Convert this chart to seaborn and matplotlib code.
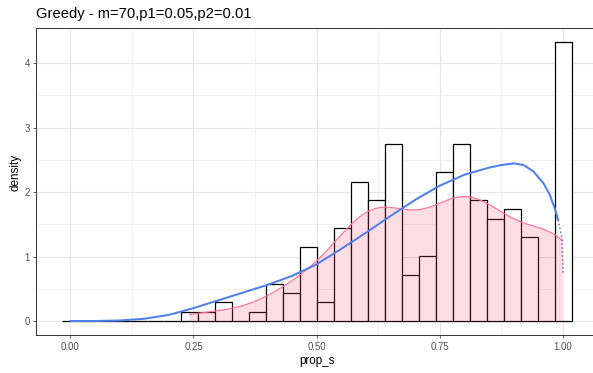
import numpy as np
import pandas as pd
import matplotlib
matplotlib.use("Agg")
import matplotlib.pyplot as plt
import seaborn as sns

# ---- data -------------------------------------------------------------
# prop_s values grouped by histogram bin (30 bins centred from 0 to 1)
bin_centres = np.linspace(0.0, 1.0, 30)
bin_counts = [0, 0, 0, 0, 0, 0, 0, 1, 1, 2, 0, 1, 4, 3, 8, 2,
              10, 15, 13, 19, 5, 7, 16, 19, 13, 11, 12, 9, 0, 30]

# theoretical density curve
curve_x = [0.0, 0.05, 0.10, 0.15, 0.20, 0.25, 0.30, 0.35, 0.40, 0.45,
           0.50, 0.55, 0.60, 0.65, 0.70, 0.75, 0.80, 0.85, 0.875, 0.90,
           0.92, 0.94, 0.96, 0.973, 0.983, 0.99, 0.997, 1.0]
curve_y = [0.0, 0.0005, 0.008, 0.035, 0.095, 0.20, 0.32, 0.44, 0.56, 0.70,
           0.88, 1.12, 1.37, 1.63, 1.88, 2.10, 2.27, 2.38, 2.42, 2.445,
           2.42, 2.32, 2.14, 1.96, 1.75, 1.57, 1.31, 0.75]

title = "Greedy - m=70,p1=0.05,p2=0.01"
x_ticks = [0.0, 0.25, 0.5, 0.75, 1.0]
x_ticklabels = ["0.00", "0.25", "0.50", "0.75", "1.00"]
y_ticks = [0, 1, 2, 3, 4]
y_ticklabels = ["0", "1", "2", "3", "4"]

sample = pd.DataFrame({"prop_s": np.repeat(bin_centres, bin_counts)})
curve = pd.DataFrame({"x": curve_x, "y": curve_y})

# ---- styling ----------------------------------------------------------
sns.set_style("white")
plt.rcParams["font.family"] = ["Liberation Sans", "DejaVu Sans"]

W, H, DPI = 593, 373, 100
fig = plt.figure(figsize=(W / DPI, H / DPI), dpi=DPI)
left, right, top, bottom = 36.3, 597.0, 27.7, 335.0
ax = fig.add_axes([left / W, 1 - bottom / H, (right - left) / W, (bottom - top) / H])

width = 1 / 29
edges = np.concatenate([bin_centres - width / 2, [bin_centres[-1] + width / 2]])

# histogram of densities: white bars with black outline
sns.histplot(data=sample, x="prop_s", bins=edges, stat="density",
             facecolor="white", edgecolor="black", alpha=1, linewidth=0.9,
             ax=ax, zorder=2)

# kernel density estimate (R's bw.nrd0 bandwidth, cut at data range)
vals = sample["prop_s"].to_numpy()
sd = vals.std(ddof=1)
iqr = np.subtract(*np.percentile(vals, [75, 25]))
bw = 0.9 * min(sd, iqr / 1.34) * len(vals) ** -0.2
kde_kw = dict(data=sample, x="prop_s", bw_method=bw / sd, bw_adjust=1.15,
              cut=0, gridsize=512, ax=ax)
sns.kdeplot(**kde_kw, fill=True, color="#FF557D", alpha=0.2, linewidth=0,
            zorder=3)
sns.kdeplot(**kde_kw, color="#FF6E9C", linewidth=0.85, zorder=4)

# theoretical curve; steep tail drawn dotted
main = curve[curve["x"] <= 0.99]
tail = curve[curve["x"] >= 0.99]
sns.lineplot(data=main, x="x", y="y", color="#4F7FEA", linewidth=1.45,
             ax=ax, zorder=5)
sns.lineplot(data=tail, x="x", y="y", color="#5A6FE0", linewidth=1.1,
             linestyle=(0, (1, 1.6)), ax=ax, zorder=5)

# ---- axes -------------------------------------------------------------
ax.set_xlim(-0.0689, 1.0689)
ax.set_ylim(-0.2167, 4.55)
ax.set_xticks(x_ticks)
ax.set_xticklabels(x_ticklabels)
ax.set_yticks(y_ticks)
ax.set_yticklabels(y_ticklabels)
ax.set_xticks([0.125, 0.375, 0.625, 0.875], minor=True)
ax.set_yticks([0.5, 1.5, 2.5, 3.5], minor=True)
ax.grid(True, which="major", color="#E6E6E6", linewidth=0.85, zorder=0)
ax.grid(True, which="minor", color="#EBEBEB", linewidth=0.5, zorder=0)
ax.set_axisbelow(True)
ax.tick_params(which="major", length=2.0, width=0.55, color="#333333",
               labelsize=6.9, labelcolor="#4D4D4D", pad=2.8,
               bottom=True, left=True)
ax.tick_params(which="minor", length=0)
for s in ax.spines.values():
    s.set_color("#333333")
    s.set_linewidth(0.7)
ax.set_xlabel("")
ax.set_ylabel("")

fig.text(316.7 / W, 1 - 364 / H, "prop_s", ha="center", va="baseline",
         fontsize=8.4, color="black")
fig.text(15 / W, 1 - 172 / H, "density", ha="center", va="center",
         rotation=90, fontsize=8.4, color="black")
fig.text(36.5 / W, 1 - 18.3 / H, title, ha="left", va="baseline",
         fontsize=10.6, color="black")

fig.savefig("out.png", dpi=DPI)
